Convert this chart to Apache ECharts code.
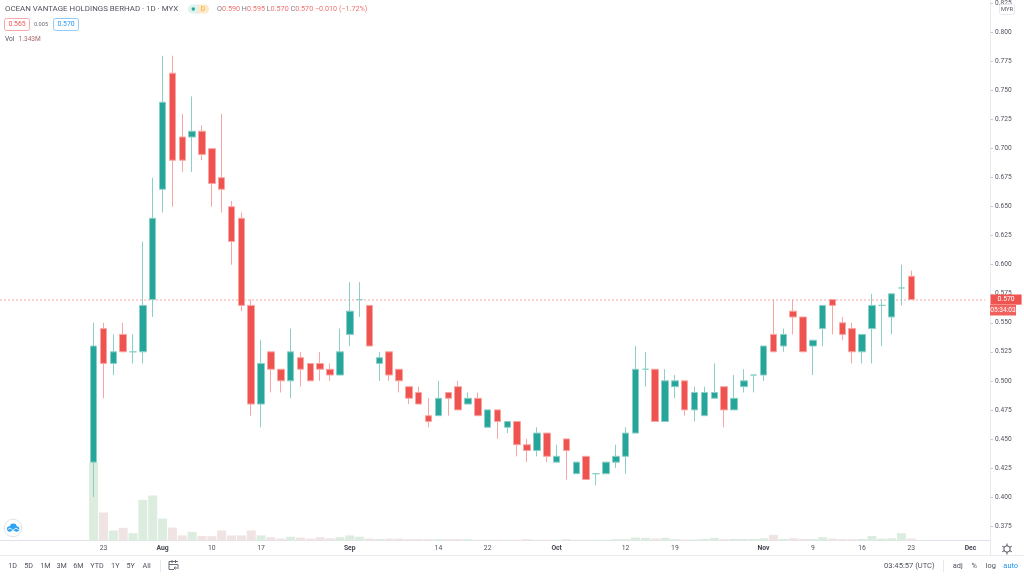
<!DOCTYPE html>
<html>
<head>
<meta charset="utf-8">
<title>OCEAN VANTAGE HOLDINGS BERHAD</title>
<style>
  html, body { margin: 0; padding: 0; background: #fff; }
  #main { width: 1024px; height: 576px; }
</style>
<script src="https://cdn.jsdelivr.net/npm/echarts@6/dist/echarts.min.js"></script>
</head>
<body>
<div id="main"></div>
<script>
// trading days shown on the chart (Malaysian market, holidays are skipped)
var tradingDays = [
  'Jul 22','Jul 23','Jul 24','Jul 27','Jul 28','Jul 29','Jul 30',
  'Aug 3','Aug 4','Aug 5','Aug 6','Aug 7','Aug 10','Aug 11','Aug 12','Aug 13','Aug 14',
  'Aug 17','Aug 18','Aug 19','Aug 21','Aug 24','Aug 25','Aug 26','Aug 27','Aug 28',
  'Sep 1','Sep 2','Sep 3','Sep 4','Sep 7','Sep 8','Sep 9','Sep 10','Sep 11',
  'Sep 14','Sep 15','Sep 17','Sep 18','Sep 21','Sep 22','Sep 23','Sep 24','Sep 25','Sep 28','Sep 29','Sep 30',
  'Oct 1','Oct 2','Oct 5','Oct 6','Oct 7','Oct 8','Oct 9',
  'Oct 12','Oct 13','Oct 14','Oct 15','Oct 16','Oct 19','Oct 20','Oct 21','Oct 22','Oct 23',
  'Oct 26','Oct 27','Oct 28','Oct 30',
  'Nov 2','Nov 3','Nov 4','Nov 5','Nov 6','Nov 9','Nov 10','Nov 11','Nov 12','Nov 13',
  'Nov 16','Nov 17','Nov 18','Nov 19','Nov 20','Nov 23'
];
var futureDays = ['Nov 24','Nov 25','Nov 26','Nov 27','Nov 30','Dec 1','Dec 2'];
var leadingBlanks = ['','','','','','','','',''];

var opens = [
  .43,.545,.515,.54,.525,.525,.57,.665,.765,.71,.71,.715,.70,.675,.65,.64,.565,.48,.525,.51,
  .50,.52,.515,.515,.51,.505,.54,.57,.565,.515,.525,.51,.495,.49,.47,.47,.49,.495,.48,.485,
  .46,.475,.46,.465,.445,.44,.455,.43,.45,.42,.435,.42,.42,.43,.435,.455,.51,.51,.465,.495,
  .50,.475,.47,.485,.495,.475,.495,.505,.505,.54,.53,.56,.555,.53,.545,.57,.55,.545,.525,.545,
  .565,.555,.58,.59
];
var closes = [
  .53,.515,.525,.525,.525,.565,.64,.74,.69,.69,.715,.695,.67,.665,.62,.565,.48,.515,.51,.50,
  .525,.51,.50,.51,.505,.525,.56,.57,.53,.52,.505,.50,.485,.48,.465,.485,.485,.475,.485,.47,
  .475,.465,.465,.445,.44,.455,.435,.435,.44,.43,.415,.42,.43,.435,.455,.51,.51,.465,.50,.50,
  .475,.49,.49,.49,.475,.485,.50,.505,.53,.525,.54,.555,.525,.535,.565,.565,.54,.525,.54,.565,
  .565,.575,.58,.57
];
var lows = [
  .40,.485,.505,.525,.515,.515,.555,.645,.65,.68,.68,.69,.65,.645,.60,.56,.47,.46,.49,.49,
  .485,.495,.50,.50,.50,.505,.53,.555,.53,.50,.50,.49,.48,.48,.46,.47,.47,.475,.48,.47,
  .46,.45,.455,.435,.43,.435,.43,.43,.415,.42,.415,.41,.42,.425,.42,.455,.495,.465,.465,.485,
  .47,.465,.47,.485,.46,.475,.49,.49,.50,.525,.525,.54,.525,.505,.53,.54,.535,.515,.515,.515,
  .53,.54,.565,.57
];
var highs = [
  .55,.55,.54,.55,.54,.62,.675,.78,.78,.73,.745,.72,.70,.73,.655,.645,.57,.535,.525,.51,
  .545,.525,.515,.525,.515,.545,.585,.585,.565,.525,.525,.51,.495,.495,.485,.50,.49,.50,.49,.49,
  .475,.475,.465,.465,.45,.46,.455,.445,.45,.43,.435,.42,.43,.445,.46,.53,.525,.51,.51,.505,
  .50,.495,.495,.515,.495,.505,.51,.505,.53,.57,.545,.57,.555,.535,.565,.57,.555,.55,.54,.575,
  .57,.575,.60,.595
];
// volume in millions
var volumes = [
  52.3,18.8,6.7,8.5,4.9,27.3,30.2,14.7,8.7,3.4,5.8,3.1,2.9,6.7,3.4,3.4,6.7,3.4,2.2,1.3,
  2.5,2.0,1.3,2.2,1.5,2.2,3.4,2.5,1.3,1.1,1.3,1.3,.9,.9,.9,.9,.9,.9,.9,.5,
  .5,.5,.5,.5,.9,.5,.5,.5,.9,.5,.5,.5,.5,.9,.9,2.0,1.8,1.3,1.8,.9,
  .7,.7,1.1,1.8,.9,1.1,1.1,1.1,1.5,3.8,1.1,1.5,1.1,1.1,2.2,1.3,.9,.9,1.1,3.1,
  1.3,1.5,4.9,1.343
];
var priceTicks = [.375,.4,.425,.45,.475,.5,.525,.55,.575,.6,.625,.65,.675,.7,.725,.75,.775,.8,.825];
var tickDays = ['Jul 23','Aug 3','Aug 10','Aug 17','Sep 1','Sep 14','Sep 22','Oct 1','Oct 12','Oct 19','Nov 2','Nov 9','Nov 16','Nov 23','Dec 1'];
var tickTexts = ['23','Aug','10','17','Sep','14','22','Oct','12','19','Nov','9','16','23','Dec'];
var rangeButtons = ['1D','5D','1M','3M','6M','YTD','1Y','5Y','All'];
var rangeButtonX = [12.7,28.7,45.3,61.7,78.3,97,115.3,130.7,146.7];

var UP = '#26a69a', DOWN = '#ef5350';
var FONT = 'Roboto, sans-serif';

var categories = leadingBlanks.concat(tradingDays, futureDays);
var candleData = leadingBlanks.map(function () { return ['-','-','-','-']; });
var volumeData = leadingBlanks.map(function () { return '-'; });
tradingDays.forEach(function (day, i) {
  candleData.push([opens[i], closes[i], lows[i], highs[i]]);
  volumeData.push({
    value: volumes[i],
    itemStyle: { color: closes[i] >= opens[i] ? '#dcecdf' : '#f0e3e3' }
  });
});

function isTick(index, value) {
  return tickDays.indexOf(value) !== -1;
}

function txt(x, y, text, size, fill, align, weight) {
  return {
    type: 'text', z: 50, silent: true, x: x, y: y,
    style: {
      text: text, fill: fill, textAlign: align || 'left', textVerticalAlign: 'middle',
      font: (weight || 'normal') + ' ' + size + 'px ' + FONT
    }
  };
}
function box(x, y, w, h, fill, stroke, r) {
  return {
    type: 'rect', z: 49, silent: true,
    shape: { x: x, y: y, width: w, height: h, r: r || 0 },
    style: { fill: fill, stroke: stroke || null, lineWidth: 1 }
  };
}
function line(x1, y1, x2, y2, color) {
  return {
    type: 'line', z: 48, silent: true,
    shape: { x1: x1, y1: y1, x2: x2, y2: y2 },
    style: { stroke: color, lineWidth: 1 }
  };
}
function dot(cx, cy, r, fill, stroke, z) {
  return {
    type: 'circle', z: z || 50, silent: true,
    shape: { cx: cx, cy: cy, r: r },
    style: { fill: fill, stroke: stroke || null, lineWidth: 1 }
  };
}
function trace(points, color, width, smooth) {
  return {
    type: 'polyline', z: 51, silent: true,
    shape: { points: points, smooth: smooth || 0 },
    style: { fill: null, stroke: color, lineWidth: width || 1 }
  };
}

var last = tradingDays.length - 1;
var legendText = ['O','H','L','C'].map(function (k, i) {
  var v = [opens[last], highs[last], lows[last], closes[last]][i];
  return '{g|' + k + '}{r|' + v.toFixed(3) + '}';
}).join(' ') + ' {r|\u22120.010 (\u22121.72%)}';

var graphics = [
  // header
  txt(5, 9, 'OCEAN VANTAGE HOLDINGS BERHAD \u00b7 1D \u00b7 MYX', 7.9, '#50535e'),
  box(188, 4.5, 12, 9, '#dff2ef', null, [4.5, 0, 0, 4.5]),
  box(198, 4.5, 11, 9, '#fde9c9', null, [0, 4.5, 4.5, 0]),
  dot(193.3, 9, 1.7, UP),
  txt(203, 9, 'D', 6.5, '#f5a623', 'center'),
  {
    type: 'text', z: 50, silent: true, x: 217, y: 9,
    style: {
      text: legendText, textVerticalAlign: 'middle', font: '7.2px ' + FONT,
      rich: {
        g: { fill: '#787b86', font: '7.2px ' + FONT },
        r: { fill: '#f1716e', font: '7.2px ' + FONT }
      }
    }
  },
  box(4.5, 18.5, 25, 12, '#fff', '#f7a8a6', 2),
  txt(17, 24.5, '0.565', 6.8, DOWN, 'center'),
  txt(41, 24.5, '0.005', 5.6, '#6a6d78', 'center'),
  box(53.5, 18.5, 25, 12, '#fff', '#90caf9', 2),
  txt(66, 24.5, '0.570', 6.8, '#2196f3', 'center'),
  txt(5, 39, 'Vol', 6.6, '#50535e'),
  txt(18.5, 39, '1.343M', 6.6, '#a8696a'),
  // right scale bits
  box(999.5, 4.5, 15, 10, '#fff', '#e6e8ee', 2),
  txt(1007, 9.5, 'MYR', 5.8, '#50535e', 'center'),
  box(990, 305, 26, 10.5, '#f1615e', null, 0),
  txt(1003, 310.2, '05:34:03', 6.6, '#fff', 'center'),
  // frame lines
  line(985, 540.5, 990.5, 540.5, '#e0e3eb'),
  line(990.5, 540, 990.5, 555, '#e9ebf0'),
  line(0, 555.5, 1024, 555.5, '#e9ebf0'),
  line(160.5, 560, 160.5, 572, '#e6e8ee'),
  line(943.5, 560, 943.5, 572, '#e6e8ee'),
  // gear
  trace([[1007, 543.5], [1007, 554.5]], '#50535e'),
  trace([[1002.2, 546.2], [1011.8, 551.8]], '#50535e'),
  trace([[1002.2, 551.8], [1011.8, 546.2]], '#50535e'),
  {
    type: 'circle', z: 52, silent: true, shape: { cx: 1007, cy: 549, r: 3.2 },
    style: { fill: '#fff', stroke: '#50535e', lineWidth: 1 }
  },
  // calendar icon next to the range buttons
  trace([[178, 561.5], [169, 561.5], [169, 569.5], [174, 569.5]], '#6a6d78'),
  trace([[169, 564.5], [178, 564.5], [178, 567]], '#6a6d78'),
  trace([[172, 560], [172, 563]], '#6a6d78'),
  trace([[175.5, 560], [175.5, 563]], '#6a6d78'),
  trace([[174, 568], [179, 568]], '#6a6d78'),
  trace([[175.5, 566.5], [174, 568], [175.5, 569.5]], '#6a6d78'),
  // cloud logo
  dot(13, 528, 8.8, '#fff', '#e0e3eb', 49),
  dot(13.3, 527, 3.4, '#2ea3f2'),
  dot(9.6, 529, 2.7, '#2ea3f2'),
  dot(16.6, 529, 2.7, '#2ea3f2'),
  trace([[7.5, 530], [10, 528.3], [13, 530], [16, 528.3], [18.6, 530]], '#fff', 0.9, 0.5),
  // footer
  txt(884, 566, '03:45:57 (UTC)', 7.6, '#50535e'),
  txt(957.7, 566, 'adj', 7.4, '#50535e', 'center'),
  txt(974.3, 566, '%', 7.4, '#50535e', 'center'),
  txt(990.7, 566, 'log', 7.4, '#50535e', 'center'),
  txt(1010.7, 566, 'auto', 7.4, '#2196f3', 'center')
];
rangeButtons.forEach(function (name, i) {
  graphics.push(txt(rangeButtonX[i], 566, name, 7.2, '#50535e', 'center'));
});

var option = {
  animation: false,
  backgroundColor: '#fff',
  textStyle: { fontFamily: FONT },
  graphic: { elements: graphics },
  grid: [
    { left: -1.77, top: 0, width: 987, height: 540.5 },
    { left: -1.77, top: 460, width: 987, height: 80.5 }
  ],
  xAxis: [
    {
      type: 'category', gridIndex: 0, data: categories, show: false
    },
    {
      type: 'category', gridIndex: 1, data: categories,
      axisLine: { lineStyle: { color: '#e0e3eb' } },
      axisTick: { length: 2, interval: isTick, alignWithLabel: true, lineStyle: { color: '#c9ccd4' } },
      axisLabel: {
        interval: isTick,
        margin: 4,
        hideOverlap: false,
        fontSize: 6.8,
        color: '#50535e',
        fontFamily: FONT,
        formatter: function (value) {
          var text = tickTexts[tickDays.indexOf(value)];
          return /[a-z]/.test(text) ? '{m|' + text + '}' : text;
        },
        rich: { m: { fontSize: 6.8, fontWeight: 'bold', color: '#434651', fontFamily: FONT } }
      }
    }
  ],
  yAxis: [
    {
      type: 'value', gridIndex: 0, position: 'right', offset: 5.3,
      min: 0.3625, max: 0.82707, scale: true,
      splitLine: { show: false },
      axisLine: { show: true, lineStyle: { color: '#e9ebf0' } },
      axisTick: { show: true, length: 2.5, customValues: priceTicks, lineStyle: { color: '#c9ccd4' } },
      axisLabel: {
        customValues: priceTicks,
        showMinLabel: true,
        showMaxLabel: true,
        margin: 4.5,
        fontSize: 6.6,
        color: '#50535e',
        fontFamily: FONT,
        formatter: function (v) { return v.toFixed(3); }
      }
    },
    {
      type: 'value', gridIndex: 1, min: 0, max: 54, show: false
    }
  ],
  series: [
    {
      type: 'bar', name: 'Vol', xAxisIndex: 1, yAxisIndex: 1, barWidth: 9, z: 1,
      data: volumeData
    },
    {
      type: 'candlestick', name: 'Price', xAxisIndex: 0, yAxisIndex: 0, barWidth: 7, z: 3,
      itemStyle: {
        color: UP, color0: DOWN,
        borderColor: '#8ccfc8', borderColor0: '#f9a5a3', borderColorDoji: '#8ccfc8',
        borderWidth: 1
      },
      data: candleData,
      markLine: {
        silent: true, symbol: 'none', z: 2,
        label: {
          position: 'end', distance: 5.3, formatter: '0.570', fontSize: 6.8,
          color: '#fff', backgroundColor: DOWN, padding: [1.6, 7, 1.6, 7], fontFamily: FONT
        },
        data: [{
          yAxis: closes[last],
          lineStyle: { color: '#f9c4c3', type: [2, 2], width: 1.5, opacity: 1 }
        }]
      }
    }
  ]
};

var chart = echarts.init(document.getElementById('main'), null, { renderer: 'canvas' });
chart.setOption(option);
</script>
</body>
</html>
